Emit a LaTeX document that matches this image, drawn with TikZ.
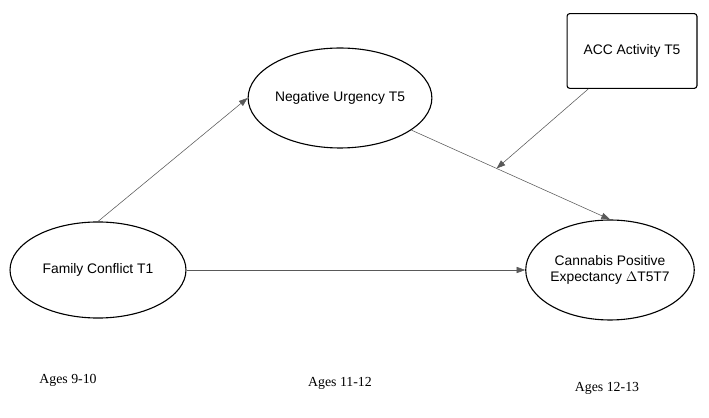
\documentclass[tikz,border=0pt]{standalone}
\usepackage{fontspec}
\setsansfont{Liberation Sans}
\setmainfont{Liberation Serif}
\usetikzlibrary{positioning, shapes.geometric, arrows.meta, calc}
\begin{document}
\begin{tikzpicture}[x=0.0254cm, y=-0.0254cm,
    latent/.style={ellipse, draw, thick, font=\sffamily\normalsize, align=center, inner sep=0pt},
    observed/.style={rectangle, draw, thick, rounded corners=2pt, font=\sffamily\normalsize, minimum width=3.3cm, minimum height=1.9cm},
    arrow/.style={-{Triangle[length=2.2mm, width=1.6mm]}, draw=gray!70!black},
    age/.style={font=\rmfamily\normalsize}
]
\useasboundingbox (0,0) rectangle (709,418);

% Constructs
\node[latent, minimum width=4.47cm, minimum height=2.44cm] (conflict) at (98,270) {Family Conflict T1};
\node[latent, minimum width=4.32cm, minimum height=2.54cm] (urgency) at (340,98) {Negative Urgency T5};
\node[latent, minimum width=3.96cm, minimum height=2.54cm] (cannabis) at (610,270) {Cannabis Positive\\Expectancy $\Delta$T5T7};
\node[observed] (acc) at (632,51) {ACC Activity T5};

% Paths
\draw[arrow] (conflict.north) -- (urgency.west);
\draw[arrow] (urgency) -- (cannabis.north);
\coordinate (modpt) at ($(urgency)!0.58!(cannabis.north)$);
\draw[arrow] (acc) -- (modpt);
\draw[arrow] (conflict) -- (cannabis);

% Ages
\node[age] (age1) at (68,380) {Ages 9-10};
\node[age] (age2) at (340,383) {Ages 11-12};
\node[age] (age3) at (607,388) {Ages 12-13};
\end{tikzpicture}
\end{document}
